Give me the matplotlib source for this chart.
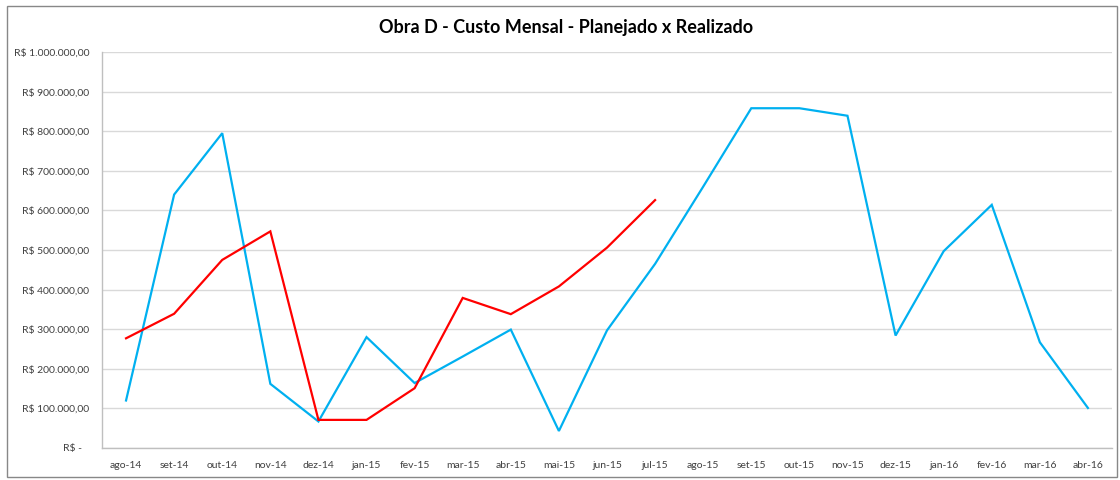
import matplotlib
matplotlib.use("Agg")
import matplotlib.pyplot as plt
from matplotlib.patches import Rectangle
from matplotlib.ticker import FuncFormatter, MultipleLocator

months = ["ago-14", "set-14", "out-14", "nov-14", "dez-14", "jan-15", "fev-15",
          "mar-15", "abr-15", "mai-15", "jun-15", "jul-15", "ago-15", "set-15",
          "out-15", "nov-15", "dez-15", "jan-16", "fev-16", "mar-16", "abr-16"]

planejado = [120000, 640000, 795000, 162000, 67000, 280000, 164000, 231000,
             299000, 43000, 297000, 465000, 660000, 858000, 858000, 839000,
             284000, 497000, 614000, 267000, 101000]

realizado = [277000, 339000, 475000, 547000, 71000, 71000, 151000, 379000,
             338000, 408000, 506000, 626000]

title = "Obra D - Custo Mensal - Planejado x Realizado"

plt.rcParams['font.family'] = ['Lato', 'DejaVu Sans']

fig = plt.figure(figsize=(11.2, 4.8), dpi=100)
ax = fig.add_axes([102/1120, 1 - 448/480, 1010/1120, 396/480])

x = list(range(len(months)))
ax.plot(x, planejado, color="#00B0F0", lw=1.6, solid_joinstyle="miter")
ax.plot(x[:len(realizado)], realizado, color="#FF0000", lw=1.6, solid_joinstyle="miter")

ax.set_xlim(-0.5, len(months) - 0.5)
ax.set_ylim(0, 1000000)
ax.yaxis.set_major_locator(MultipleLocator(100000))


def fmt(v, pos):
    if abs(v) < 1:
        return "R$ -   "
    s = f"{v:,.2f}".replace(",", "X").replace(".", ",").replace("X", ".")
    return "R$ " + s


ax.yaxis.set_major_formatter(FuncFormatter(fmt))
ax.set_xticks(x)
ax.set_xticklabels(months)
ax.tick_params(axis="both", length=0, labelsize=7.5, colors="#404040")
ax.tick_params(axis="x", pad=9)
ax.tick_params(axis="y", pad=9)

ax.grid(axis="y", color="#d9d9d9", lw=1)
ax.set_axisbelow(True)
for s in ["top", "right"]:
    ax.spines[s].set_visible(False)
for s in ["left", "bottom"]:
    ax.spines[s].set_color("#bfbfbf")
    ax.spines[s].set_linewidth(1)

fig.text(0.505, 1 - 28/480, title, ha="center", va="center",
         fontsize=13, fontweight="bold", color="#000000")

fig.patches.append(Rectangle((7/1120, 3/480), 1110/1120, 471/480,
                             transform=fig.transFigure, fill=False,
                             edgecolor="#888888", lw=1))

fig.savefig("out.png", dpi=100)
